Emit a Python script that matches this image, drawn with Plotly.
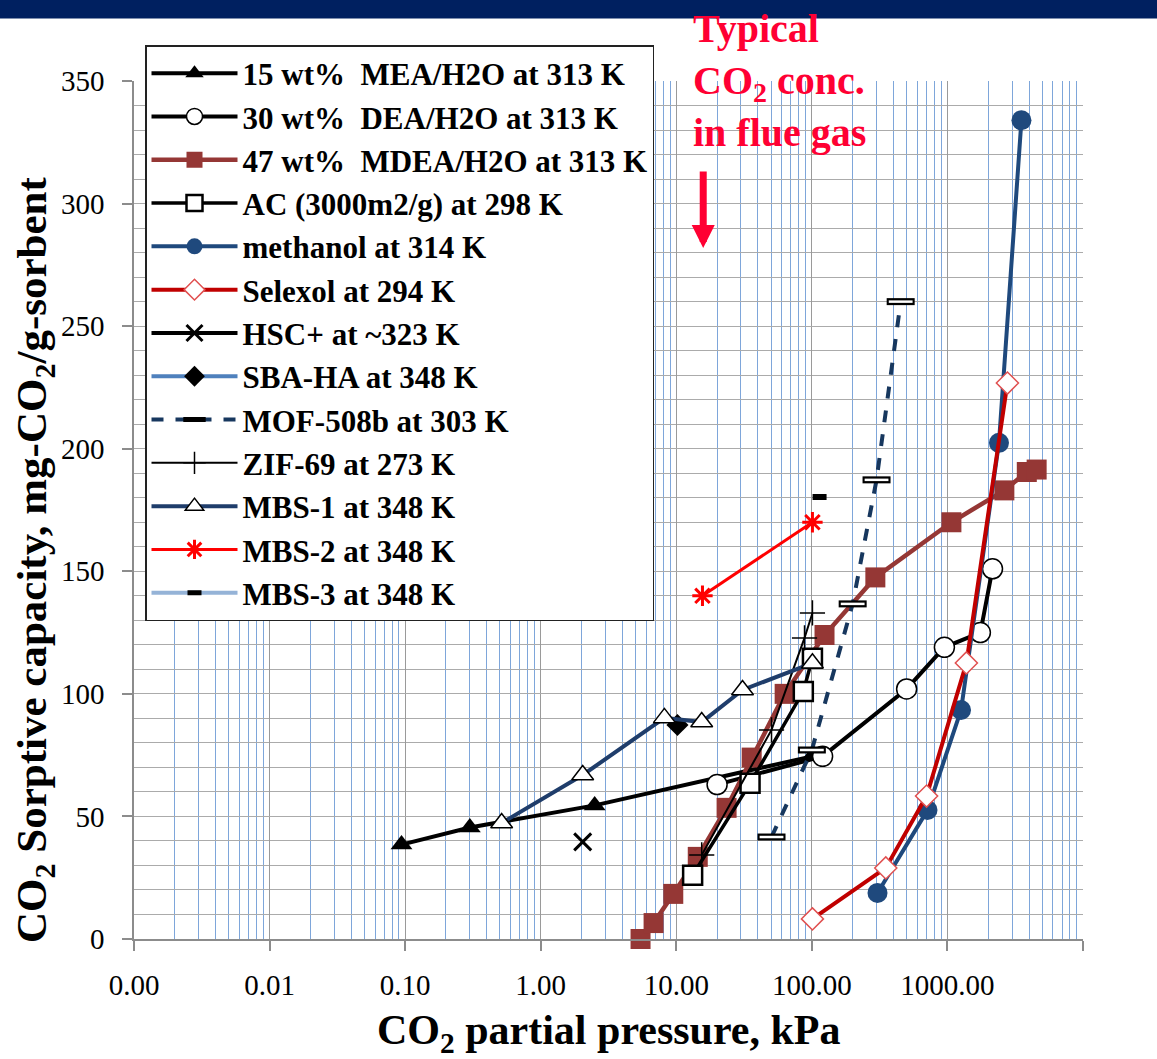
import math
import plotly.graph_objects as go

# ---------------- data ----------------
mea_x = [0.094, 0.30, 2.5, 100]
mea_y = [38.5, 45.5, 54.5, 74.5]

dea_x = [20, 120, 500, 950, 1750, 2150]
dea_y = [63, 74.5, 102, 119, 125, 151]

mdea_x = [5.45, 6.8, 9.5, 14.4, 23.5, 36, 63, 124, 294, 1070, 2630, 3850, 4550]
mdea_y = [0, 6.5, 18.4, 33.5, 53.5, 74, 100, 124, 147.5, 170, 183, 190.5, 191.5]

ac_x = [13.2, 35, 86.5, 101]
ac_y = [26, 63.5, 101, 114.5]

meoh_x = [305, 713, 1260, 2400, 3515]
meoh_y = [18.8, 52.6, 93.4, 202.4, 334]

selexol_x = [101, 351, 702, 1380, 2770]
selexol_y = [8.2, 29, 58.3, 112.6, 226.8]

hsc_x = [2.04]
hsc_y = [39.6]

sba_x = [10.2]
sba_y = [87.3]

mof_x = [50.4, 100, 200, 300, 452]
mof_y = [41.6, 77.1, 136.7, 187.3, 260]

zif_x = [15.4, 50.4, 88.3, 101]
zif_y = [34.3, 85.3, 122.8, 133]

mbs1_x = [0.515, 2.04, 8.17, 15.4, 30.8, 101]
mbs1_y = [47.3, 66.9, 90.2, 88.5, 101.6, 112.5]

mbs2_x = [15.6, 101]
mbs2_y = [140, 170]

mbs3_x = [114]
mbs3_y = [180.3]

x_tick_vals = [0.001, 0.01, 0.1, 1, 10, 100, 1000, 10000]
x_tick_text = ["0.00", "0.01", "0.10", "1.00", "10.00", "100.00", "1000.00", ""]

flue_gas_kpa = 15.8

# ---------------- layout geometry ----------------
W, H = 1157, 1059
L, R, T, B = 134, 1083, 81, 939   # plot area in pixels


def px_x(p):
    return (p - L) / (R - L)


def px_y(p):
    return (B - p) / (B - T)


SERIF = "Liberation Serif, Times New Roman, serif"

fig = go.Figure()


def add(name, x, y, line, marker, mode="lines+markers", showlegend=True):
    fig.add_trace(go.Scatter(
        x=x, y=y, name=name, mode=mode, line=line, marker=marker,
        cliponaxis=False, showlegend=showlegend, legendgroup=name,
    ))


add("15 wt%\u00a0\u00a0MEA/H2O at 313 K", mea_x, mea_y,
    dict(color="black", width=4),
    dict(symbol="triangle-up", size=19, color="black"))
add("30 wt%\u00a0\u00a0DEA/H2O at 313 K", dea_x, dea_y,
    dict(color="black", width=4),
    dict(symbol="circle", size=20, color="white", line=dict(color="black", width=1.5)))
add("47 wt%\u00a0\u00a0MDEA/H2O at 313 K", mdea_x, mdea_y,
    dict(color="#953735", width=4.5),
    dict(symbol="square", size=20, color="#953735"))
add("AC (3000m2/g) at 298 K", ac_x, ac_y,
    dict(color="black", width=3.5),
    dict(symbol="square", size=19, color="white", line=dict(color="black", width=2.5)))
add("methanol at 314 K", meoh_x, meoh_y,
    dict(color="#1F497D", width=4),
    dict(symbol="circle", size=20, color="#1F497D"))
add("Selexol at 294 K", selexol_x, selexol_y,
    dict(color="#C00000", width=4),
    dict(symbol="diamond", size=17, color="white", line=dict(color="#E05050", width=1.5)))
add("HSC+ at ~323 K", hsc_x, hsc_y,
    dict(color="black", width=4),
    dict(symbol="x-thin", size=17, color="black", line=dict(color="black", width=3)))
add("SBA-HA at 348 K", sba_x, sba_y,
    dict(color="#4F81BD", width=4),
    dict(symbol="diamond", size=17, color="black"))
add("MOF-508b at 303 K", mof_x, mof_y,
    dict(color="#17375E", width=4, dash="dash"),
    dict(symbol="line-ew", size=20, color="black", line=dict(color="black", width=7)))
add("MOF-508b overlay", mof_x, mof_y, dict(width=0),
    dict(symbol="line-ew", size=17, color="white", line=dict(color="white", width=2.5)),
    mode="markers", showlegend=False)
add("ZIF-69 at 273 K", zif_x, zif_y,
    dict(color="black", width=2),
    dict(symbol="cross-thin", size=18, color="black", line=dict(color="black", width=1.5)))
add("MBS-1 at 348 K", mbs1_x, mbs1_y,
    dict(color="#1F3D6B", width=4),
    dict(symbol="triangle-up", size=19, color="white", line=dict(color="black", width=1.5)))
add("MBS-2 at 348 K", mbs2_x, mbs2_y,
    dict(color="#FF0000", width=3),
    dict(symbol="asterisk", size=17, color="#FF0000", line=dict(color="#FF0000", width=3)))
add("MBS-3 at 348 K", mbs3_x, mbs3_y,
    dict(color="#95B3D7", width=4),
    dict(symbol="line-ew", size=10, color="black", line=dict(color="black", width=6)))

# minor log gridline positions (2..9 within each decade)
minor_vals = [k * 10 ** d for d in range(-3, 4) for k in range(2, 10)]

fig.update_xaxes(
    type="log", range=[-3, 4], automargin=False,
    tickmode="array", tickvals=x_tick_vals, ticktext=x_tick_text,
    showgrid=True, gridcolor="#9A9A9A", gridwidth=1,
    showline=True, linecolor="#8C8C8C", linewidth=1.5,
    ticks="outside", ticklen=10, tickcolor="#8C8C8C", tickwidth=1.5,
    ticklabelstandoff=9,
    tickfont=dict(family=SERIF, size=29, color="black"),
    minor=dict(tickmode="array", tickvals=minor_vals, showgrid=True,
               gridcolor="#7EA6DA", gridwidth=1, ticks=""),
    zeroline=False,
)
fig.update_yaxes(
    range=[0, 350], tickmode="linear", tick0=0, dtick=50, automargin=False,
    showgrid=True, gridcolor="#ABABAB", gridwidth=1.2,
    showline=True, linecolor="#8C8C8C", linewidth=1.5,
    ticks="outside", ticklen=10, tickcolor="#8C8C8C", tickwidth=1.5,
    ticklabelstandoff=12,
    tickfont=dict(family=SERIF, size=29, color="black"),
    minor=dict(dtick=10, showgrid=True, gridcolor="#ABABAB", gridwidth=1.2, ticks=""),
    zeroline=False,
)

fig.update_layout(
    width=W, height=H,
    margin=dict(l=L, r=W - R, t=T, b=H - B, pad=0, autoexpand=False),
    plot_bgcolor="white", paper_bgcolor="white",
    font=dict(family=SERIF, color="black"),
    legend=dict(
        x=px_x(145), y=px_y(45), xanchor="left", yanchor="top",
        bgcolor="white", bordercolor="#222222", borderwidth=1.5,
        font=dict(family=SERIF, size=31, color="black", weight="bold"),
        itemwidth=86, tracegroupgap=0, maxheight=700,
    ),
    shapes=[dict(type="rect", xref="paper", yref="paper",
                 x0=px_x(-5), x1=px_x(W + 5), y0=px_y(18.5), y1=px_y(-5),
                 fillcolor="#002060", line=dict(width=0), layer="above")],
    annotations=[
        dict(xref="paper", yref="paper", x=px_x(35), y=px_y(560),
             xanchor="center", yanchor="middle", textangle=-90, showarrow=False,
             text="<b>CO<sub>2</sub> Sorptive capacity, mg-CO<sub>2</sub>/g-sorbent</b>",
             font=dict(family=SERIF, size=43, color="black")),
        dict(xref="paper", yref="paper", x=px_x(609), y=px_y(1033),
             xanchor="center", yanchor="middle", showarrow=False,
             text="<b>CO<sub>2</sub> partial pressure, kPa</b>",
             font=dict(family=SERIF, size=42, color="black")),
        dict(xref="paper", yref="paper", x=px_x(691), y=px_y(4),
             xanchor="left", yanchor="top", align="left", showarrow=False,
             text="<b>Typical<br>CO<sub>2</sub> conc.<br>in flue gas</b>",
             font=dict(family=SERIF, size=40, color="#FF0033")),
        dict(xref="x", yref="y", x=math.log10(flue_gas_kpa), y=(B - 248) / (B - T) * 350,
             axref="x", ayref="y", ax=math.log10(flue_gas_kpa), ay=(B - 170) / (B - T) * 350,
             text="", showarrow=True, arrowhead=2, arrowsize=0.66, arrowwidth=7,
             arrowcolor="#FF0033", standoff=0, startstandoff=0),
    ],
)

fig.write_html("out.html")
